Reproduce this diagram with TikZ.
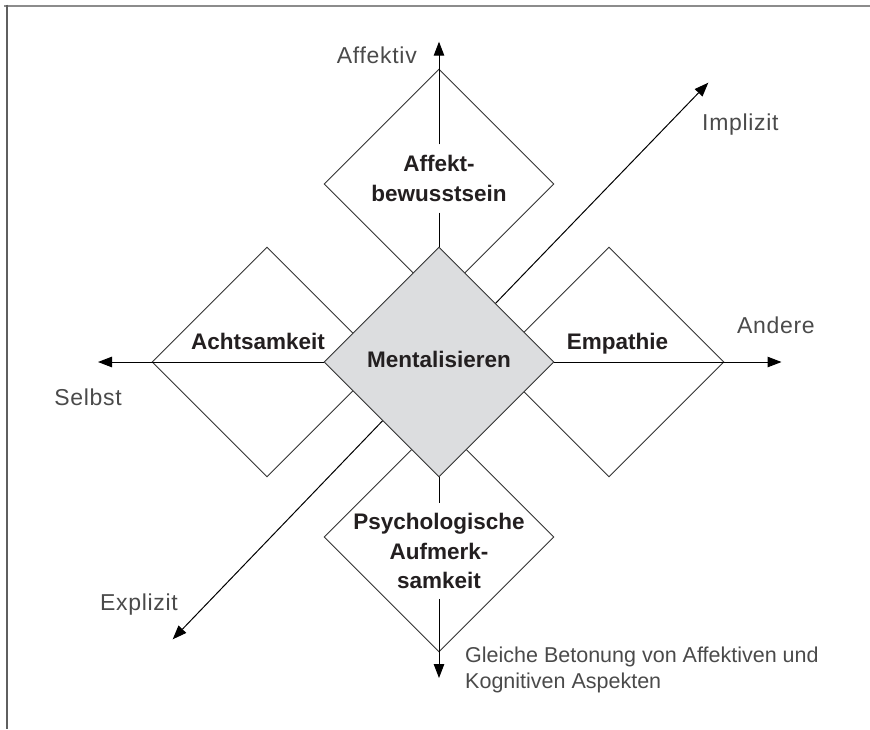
\documentclass[tikz,border=0pt]{standalone}
\usepackage{fontspec}
\setmainfont{Liberation Sans}
\newfontfamily\lblfont[LetterSpace=3]{Liberation Sans}
\usetikzlibrary{shapes.geometric,arrows.meta}
\definecolor{frametop}{HTML}{8C8C8C}
\definecolor{frameleft}{HTML}{5F5F5F}
\definecolor{linegray}{HTML}{333333}
\definecolor{centerfill}{HTML}{DCDDDF}
\definecolor{textdark}{HTML}{231F20}
\definecolor{lblgray}{HTML}{4A4A4A}
\tikzset{
  outerdia/.style={diamond, draw=linegray, line width=0.9pt, fill=white,
    minimum width=230pt, minimum height=230pt, inner sep=0pt},
  centerdia/.style={outerdia, fill=centerfill},
  axis/.style={draw=black, line width=1pt},
  axarrow/.style={axis, -{Triangle[length=14pt,width=10.5pt]}},
  boldtxt/.style={font=\fontsize{22.5}{29.5}\selectfont\bfseries, text=textdark, inner sep=0pt},
  stacktxt/.style={boldtxt, align=center, inner xsep=2pt, inner ysep=11pt},
  lbl/.style={font=\lblfont\fontsize{23}{27}\selectfont, text=lblgray, inner sep=0pt},
  notetxt/.style={font=\fontsize{21.5}{25.6}\selectfont, text=lblgray, inner sep=0pt, align=left}
}
\begin{document}
\begin{tikzpicture}[x=1pt,y=-1pt]
\useasboundingbox (0,0) rectangle (870,729);
% frame
\draw[frametop, line width=2pt] (4,5.5) -- (870,5.5);
\draw[frameleft, line width=2pt] (6.5,4.5) -- (6.5,729);
% outer diamonds
\node[outerdia] (affekt) at (439,184) {};
\node[outerdia] (achtsam) at (267,362) {};
\node[outerdia] (empathie) at (609,362) {};
\node[outerdia] (psycho) at (439,537) {};
% central diamond
\node[centerdia] (mental) at (439,362) {};
% arrow tips
\coordinate (tipN) at (439,41.7);
\coordinate (tipS) at (439,678);
\coordinate (tipW) at (98,362);
\coordinate (tipE) at (781.5,362);
\coordinate (tipNE) at (708.3,82.7);
\coordinate (tipSW) at (172.7,639.3);
% texts
\node[stacktxt] (atext) at (439,178.5) {Affekt-\\bewusstsein};
\node[stacktxt, inner ysep=10pt] (ptext) at (439,551) {Psychologische\\Aufmerk-\\samkeit};
\node[boldtxt, anchor=base] (mtext) at (439,367) {Mentalisieren};
\node[boldtxt, anchor=base] (achtext) at (258,349) {Achtsamkeit};
\node[boldtxt, anchor=base] (emptext) at (617.5,349) {Empathie};
% axes
\draw[axarrow] (atext) -- (tipN);
\draw[axis] (atext) -- (mental);
\draw[axis] (mental) -- (ptext);
\draw[axarrow] (ptext) -- (tipS);
\draw[axarrow] (mental) -- (tipW);
\draw[axarrow] (mental) -- (tipE);
\draw[axarrow] (mental) -- (tipNE);
\draw[axarrow] (mental) -- (tipSW);
% axis labels
\node[lbl, anchor=base east] (laff) at (417,63) {Affektiv};
\node[lbl, anchor=base west] (limp) at (702,130) {Implizit};
\node[lbl, anchor=base west] (land) at (737,333.5) {Andere};
\node[lbl, anchor=base east] (lsel) at (122,405) {Selbst};
\node[lbl, anchor=base east] (lexp) at (178,610) {Explizit};
\node[notetxt, anchor=north west] (note) at (465,646.8) {Gleiche Betonung von Affektiven und\\Kognitiven Aspekten};
\end{tikzpicture}
\end{document}
